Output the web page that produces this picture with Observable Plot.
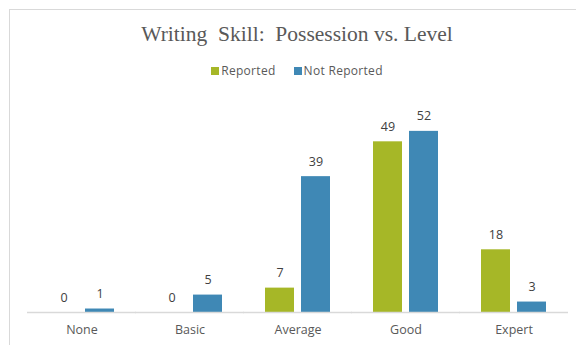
<!DOCTYPE html>
<html>
<head>
<meta charset="utf-8">
<script src="https://cdn.jsdelivr.net/npm/d3@7"></script>
<script src="https://cdn.jsdelivr.net/npm/@observablehq/plot@0.6"></script>
<style>
  html, body { margin: 0; padding: 0; background: #fff; }
  body { position: relative; width: 576px; height: 345px; overflow: hidden; }
  #frame { position: absolute; left: 9px; top: 9px; width: 600px; height: 400px;
           border-left: 1px solid #d9d9d9; border-top: 1px solid #d9d9d9; }
  #title { position: absolute; left: 26px; width: 542px; top: 20px; text-align: center;
           font-family: "Liberation Serif", "Times New Roman", serif; font-size: 21.5px;
           color: #595959; white-space: pre; line-height: 28px; }
  #legend { position: absolute; left: 26px; width: 542px; top: 62px; text-align: center;
            font-family: "Open Sans", sans-serif; font-size: 12px; letter-spacing: 0.3px;
            color: #595959; line-height: 18px; white-space: nowrap; }
  #legend .item { display: inline-block; margin: 0 9px; }
  #legend .sw { display: inline-block; width: 8px; height: 8px; margin-right: 2px; vertical-align: 0px; }
  #chart { position: absolute; left: 0; top: 85px; }
</style>
</head>
<body>
<div id="frame"></div>
<div id="title"></div>
<div id="legend"></div>
<div id="chart"></div>
<script>
const titleText = "Writing  Skill:  Possession vs. Level";
const categories = ["None", "Basic", "Average", "Good", "Expert"];
const series = ["Reported", "Not Reported"];
const reported = [0, 0, 7, 49, 18];
const notReported = [1, 5, 39, 52, 3];
const colors = ["#A6B727", "#3F88B5"];

const data = [];
categories.forEach((c, i) => {
  data.push({category: c, series: series[0], value: reported[i]});
  data.push({category: c, series: series[1], value: notReported[i]});
});

document.getElementById("title").textContent = titleText;
const legend = document.getElementById("legend");
series.forEach((s, i) => {
  const item = document.createElement("span");
  item.className = "item";
  const sw = document.createElement("span");
  sw.className = "sw";
  sw.style.background = colors[i];
  item.appendChild(sw);
  item.appendChild(document.createTextNode(s));
  legend.appendChild(item);
});

const chart = Plot.plot({
  width: 576,
  height: 260,
  marginLeft: 26,
  marginRight: 8,
  marginTop: 18,
  marginBottom: 33,
  style: {fontFamily: "Open Sans, sans-serif", background: "transparent"},
  fx: {domain: categories, paddingInner: 0.4, paddingOuter: 0.2, label: null},
  x: {domain: series, paddingInner: 0.2, paddingOuter: 0, axis: null},
  y: {domain: [0, 60], axis: null},
  color: {domain: series, range: colors},
  marks: [
    Plot.barY(data, {fx: "category", x: "series", y: "value", fill: "series"}),
    Plot.ruleY([0], {stroke: "#d9d9d9", strokeWidth: 1.5, insetLeft: -22, insetRight: -22}),
    Plot.text(data, {fx: "category", x: "series", y: "value", text: d => String(d.value),
      lineAnchor: "bottom", dy: -11, fill: "#404040", fontSize: 12.5}),
    Plot.axisFx({anchor: "bottom", tickSize: 0, tickPadding: 13, fontSize: 12.5, color: "#595959", label: null})
  ]
});
document.getElementById("chart").appendChild(chart);
</script>
</body>
</html>
